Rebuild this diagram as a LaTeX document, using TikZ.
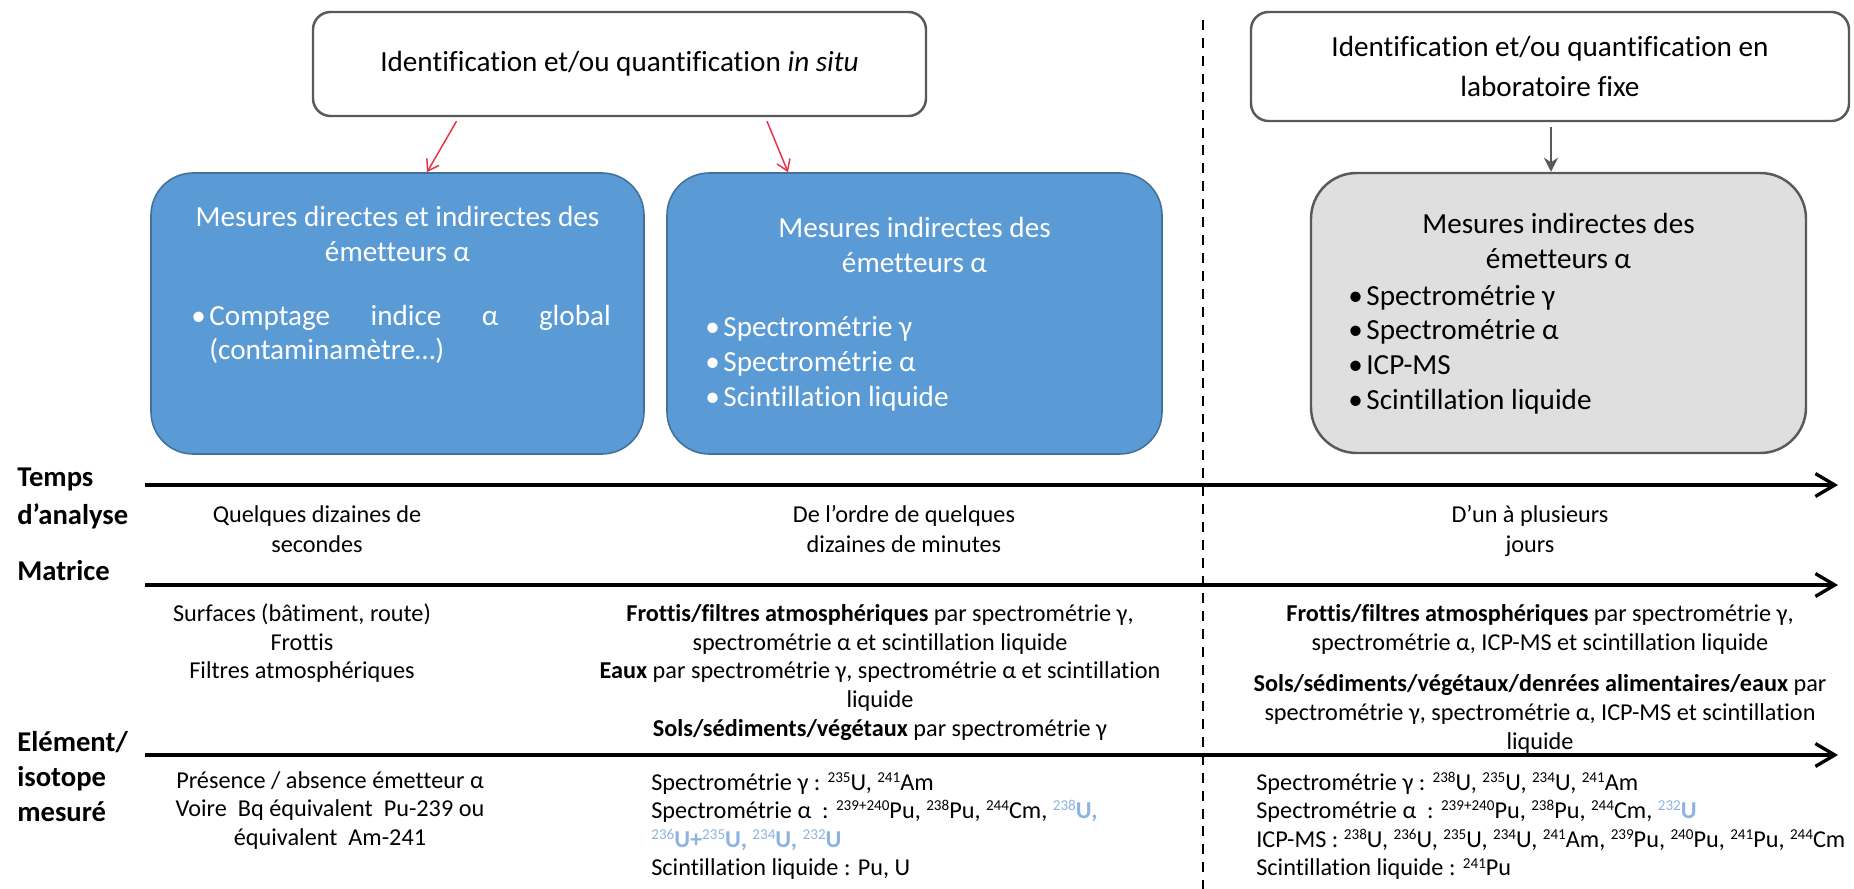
\documentclass[tikz,border=0pt]{standalone}
\usepackage{fontspec}
\setmainfont{Carlito}[Ligatures={NoCommon}]
\usetikzlibrary{arrows.meta,positioning}

\definecolor{measblue}{RGB}{91,155,213}
\definecolor{measblueline}{RGB}{65,113,156}
\definecolor{labgray}{RGB}{223,223,223}
\definecolor{framegray}{RGB}{89,89,89}
\definecolor{linkred}{RGB}{232,51,74}
\definecolor{isoblue}{RGB}{141,179,226}

\newlength\unitpx
\setlength\unitpx{0.02cm}
\newcommand\SupNum[1]{\raisebox{4.4pt}{\fontsize{8.6}{9}\selectfont #1}}
\newcommand\Iso[2]{\SupNum{#1}#2}
\newcommand\IsoBlue[2]{\textcolor{isoblue}{\SupNum{#1}\textbf{#2}}}
\newcommand\AxisLine[2]{%
    \coordinate (#1Start) at (145,#2);
    \coordinate (#1End) at (1838,#2);
    \draw[axisline] (#1Start) -- (#1End);
}

\tikzset{
    boxfont/.style={font=\fontsize{16.6}{19.8}\selectfont},
    smallfont/.style={font=\fontsize{13.8}{16.3}\selectfont},
    titlebox/.style={draw=framegray, line width=1.4pt, rounded corners=10pt, fill=white, boxfont, align=flush center},
    measbox/.style={draw=measblueline, line width=0.9pt, fill=measblue, rounded corners=24pt},
    labbox/.style={draw=framegray, line width=1.4pt, fill=labgray, rounded corners=26pt},
    boxtext/.style={boxfont, anchor=base, inner sep=0pt, text width=480\unitpx, align=flush center},
    boxlist/.style={boxfont, anchor=base west, inner sep=0pt, text width=480\unitpx, align=flush left},
    rowlabel/.style={font=\fontsize{16.3}{22}\selectfont\bfseries, anchor=base west, inner sep=0pt, text width=120\unitpx, align=flush left},
    celltext/.style={smallfont, anchor=base, inner sep=0pt, text width=700\unitpx, align=flush center},
    celllist/.style={smallfont, anchor=base west, inner sep=0pt, text width=700\unitpx, align=flush left},
    linkarrow/.style={draw=linkred, line width=0.85pt, -{Straight Barb[length=6pt,width=8pt]}},
    labarrow/.style={draw=framegray, line width=1pt, -{Stealth[length=8pt,width=8pt]}},
    axisline/.style={line width=1.9pt, -{Straight Barb[length=11pt,width=13pt]}},
    divider/.style={line width=1.1pt, dash pattern=on 5.7pt off 4.5pt},
}

\begin{document}
\begin{tikzpicture}[x=0.02cm, y=-0.02cm]
    \useasboundingbox (0,0) rectangle (1854,889);

    \node[titlebox, minimum width=613\unitpx, minimum height=104\unitpx] (insitu) at (619.5,64) {Identification et/ou quantification \textit{in situ}};
    \node[titlebox, font=\fontsize{16.6}{22.5}\selectfont, minimum width=598\unitpx, minimum height=109\unitpx] (labo) at (1550,66.5) {Identification et/ou quantification en\\laboratoire fixe};

    \node[measbox, minimum width=493\unitpx, minimum height=281\unitpx] (direct) at (397.5,313.5) {};
    \node[measbox, minimum width=495\unitpx, minimum height=281\unitpx] (indirect) at (914.5,313.5) {};
    \node[labbox, minimum width=495\unitpx, minimum height=280\unitpx] (labmeas) at (1558.5,313) {};

    \draw[linkarrow] ([shift={(-163,4)}]insitu.south) -- ([xshift=29.5\unitpx]direct.north);
    \draw[linkarrow] ([shift={(147.5,4)}]insitu.south) -- ([xshift=-126.5\unitpx]indirect.north);
    \draw[labarrow] ([shift={(1,5)}]labo.south) -- ([xshift=-7.5\unitpx]labmeas.north);

    \begin{scope}[text=white]
        \node[boxtext] (directtitle) at (397.5,226.7) {Mesures directes et indirectes des\\émetteurs α};
        \node[boxlist] (directlist) at (191,325) {\textbullet\hspace{2pt}\makebox[228.5pt][l]{Comptage\hfill indice\hfill α\hfill global}\\\phantom{\textbullet}\hspace{2pt}(contaminamètre…)};
        \node[boxtext] (indirecttitle) at (914.5,237.7) {Mesures indirectes des\\émetteurs α};
        \node[boxlist] (indirectlist) at (705,336.7) {\textbullet\hspace{2pt}Spectrométrie γ\\\textbullet\hspace{2pt}Spectrométrie α\\\textbullet\hspace{2pt}Scintillation liquide};
    \end{scope}
    \node[boxtext] (labtitle) at (1558.5,233.3) {Mesures indirectes des\\émetteurs α};
    \node[boxlist] (lablist) at (1348,305) {\textbullet\hspace{2pt}Spectrométrie γ\\\textbullet\hspace{2pt}Spectrométrie α\\\textbullet\hspace{2pt}ICP-MS\\\textbullet\hspace{2pt}Scintillation liquide};

    \coordinate (DivTop) at (1203,20);
    \coordinate (DivBottom) at (1203,889);
    \draw[divider] (DivTop) -- (DivBottom);

    \AxisLine{Time}{485}
    \AxisLine{Matrix}{585}
    \AxisLine{Isotope}{755}

    \node[rowlabel] (timelabel) at (17,486) {Temps\\d’analyse};
    \node[rowlabel] (matrixlabel) at (17,580.7) {Matrice};
    \node[rowlabel, font=\fontsize{16.3}{19.8}\selectfont\bfseries] (isotopelabel) at (17,751.7) {Elément/\\isotope\\mesuré};

    \node[celltext, font=\fontsize{13.8}{17}\selectfont] (time1) at (317,522.7) {Quelques dizaines de\\secondes};
    \node[celltext, font=\fontsize{13.8}{17}\selectfont] (time2) at (904,522.7) {De l’ordre de quelques\\dizaines de minutes};
    \node[celltext, font=\fontsize{13.8}{17}\selectfont] (time3) at (1530,522.7) {D’un à plusieurs\\jours};

    \node[celltext] (matrix1) at (302,621.7) {Surfaces (bâtiment, route)\\Frottis\\Filtres atmosphériques};
    \node[celltext] (matrix2) at (880,621.7) {\textbf{Frottis/filtres atmosphériques} par spectrométrie γ,\\spectrométrie α et scintillation liquide\\\textbf{Eaux} par spectrométrie γ, spectrométrie α et scintillation\\liquide\\\textbf{Sols/sédiments/végétaux} par spectrométrie γ};
    \node[celltext] (matrix3) at (1540,621.7) {\textbf{Frottis/filtres atmosphériques} par spectrométrie γ,\\spectrométrie α, ICP-MS et scintillation liquide\\[7.4pt]\textbf{Sols/sédiments/végétaux/denrées alimentaires/eaux} par\\spectrométrie γ, spectrométrie α, ICP-MS et scintillation\\liquide};

    \node[celltext] (iso1) at (330,788) {Présence / absence émetteur α\\Voire~ Bq équivalent~ Pu-239 ou\\équivalent~ Am-241};
    \node[celllist] (iso2) at (651,790) {Spectrométrie γ : \Iso{235}{U}, \Iso{241}{Am}\\Spectrométrie α~ : \Iso{239+240}{Pu}, \Iso{238}{Pu}, \Iso{244}{Cm}, \IsoBlue{238}{U,}\\\IsoBlue{236}{U+}\IsoBlue{235}{U,} \IsoBlue{234}{U,} \IsoBlue{232}{U}\\Scintillation liquide : Pu, U};
    \node[celllist] (iso3) at (1256,790) {Spectrométrie γ : \Iso{238}{U}, \Iso{235}{U}, \Iso{234}{U}, \Iso{241}{Am}\\Spectrométrie α~ : \Iso{239+240}{Pu}, \Iso{238}{Pu}, \Iso{244}{Cm}, \IsoBlue{232}{U}\\ICP-MS : \Iso{238}{U}, \Iso{236}{U}, \Iso{235}{U}, \Iso{234}{U}, \Iso{241}{Am}, \Iso{239}{Pu}, \Iso{240}{Pu}, \Iso{241}{Pu}, \Iso{244}{Cm}\\Scintillation liquide : \Iso{241}{Pu}};
\end{tikzpicture}
\end{document}
